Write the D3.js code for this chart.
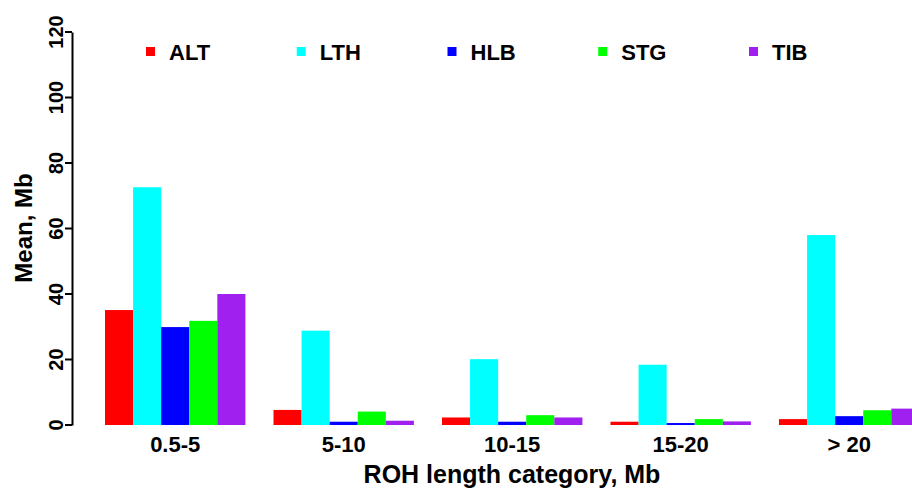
<!DOCTYPE html>
<html><head><meta charset="utf-8">
<script src="https://cdn.jsdelivr.net/npm/d3@7"></script>
<style>
html,body{margin:0;padding:0;background:#fff;}
svg{display:block;font-family:"Liberation Sans",Arial,Helvetica,sans-serif;font-weight:bold;}
</style></head>
<body><svg id="c" width="912" height="488"></svg>
<script>
const categories = ["0.5-5", "5-10", "10-15", "15-20", "> 20"];
const seriesNames = ["ALT", "LTH", "HLB", "STG", "TIB"];
const seriesColors = ["#FF0000", "#00FFFF", "#0000FF", "#00FF00", "#A020F0"];
const ALT = [35.1, 4.6, 2.3, 1.0, 1.8];
const LTH = [72.6, 28.8, 20.1, 18.4, 58.0];
const HLB = [29.9, 1.0, 1.0, 0.6, 2.7];
const STG = [31.8, 4.1, 3.0, 1.8, 4.5];
const TIB = [40.0, 1.3, 2.3, 1.1, 5.0];
const yTicks = [0, 20, 40, 60, 80, 100, 120];

const seriesValues = [ALT, LTH, HLB, STG, TIB];
const svg = d3.select("#c");

const y = d3.scaleLinear().domain([0, 120]).range([425, 32]);
const x0 = d3.scaleBand().domain(categories).range([105, 919.4]).paddingInner(1/6).paddingOuter(0);
const x1 = d3.scaleBand().domain(seriesNames).range([0, x0.bandwidth()]).padding(0);

// bars
const groups = svg.append("g").selectAll("g").data(categories).join("g")
  .attr("transform", d => `translate(${x0(d)},0)`);
groups.selectAll("rect")
  .data((c, ci) => seriesNames.map((s, si) => ({s, si, v: seriesValues[si][ci]})))
  .join("rect")
  .attr("x", d => x1(d.s))
  .attr("width", x1.bandwidth())
  .attr("y", d => y(d.v))
  .attr("height", d => y(0) - y(d.v))
  .attr("fill", d => seriesColors[d.si]);

// y axis
const yAxis = d3.axisLeft(y).tickValues(yTicks).tickSize(7).tickPadding(5).tickSizeOuter(0);
const ga = svg.append("g").attr("transform", "translate(72,0)").call(yAxis);
ga.select(".domain").attr("stroke", "#000").attr("stroke-width", 2);
ga.selectAll(".tick").attr("transform", "translate(0,0)");
ga.selectAll(".tick line").attr("stroke", "#000").attr("stroke-width", 2)
  .attr("y1", d => y(d)).attr("y2", d => y(d));
ga.selectAll(".tick text")
  .attr("font-size", 20).attr("font-family", "Liberation Sans, Arial, sans-serif").attr("font-weight", "bold")
  .attr("fill", "#000")
  .attr("text-anchor", "middle")
  .attr("x", 0).attr("y", 0).attr("dy", 0)
  .attr("transform", d => `translate(-9,${y(d)}) rotate(-90)`);

// x labels
const xAxis = d3.axisBottom(x0).tickSize(0).tickPadding(0);
const gx = svg.append("g").attr("transform", "translate(0,452)").call(xAxis);
gx.select(".domain").remove();
gx.selectAll(".tick text").attr("font-size", 22).attr("font-family", "Liberation Sans, Arial, sans-serif")
  .attr("font-weight", "bold").attr("fill", "#000").attr("dy", 0).attr("y", 0);

// axis titles
svg.append("text").attr("x", 512).attr("y", 483).attr("text-anchor", "middle")
  .attr("font-size", 25).attr("fill", "#000").text("ROH length category, Mb");
svg.append("text").attr("transform", "translate(32,228) rotate(-90)").attr("text-anchor", "middle")
  .attr("font-size", 24).attr("fill", "#000").text("Mean, Mb");

// legend
const legX = d3.scalePoint().domain(seriesNames).range([146, 749]);
const lg = svg.append("g").selectAll("g").data(seriesNames).join("g")
  .attr("transform", d => `translate(${legX(d)},0)`);
lg.append("rect").attr("x", 0).attr("y", 47).attr("width", 9).attr("height", 9)
  .attr("fill", (d, i) => seriesColors[i]);
lg.append("text").attr("x", 23).attr("y", 60).attr("font-size", 22).attr("fill", "#000").text(d => d);
</script></body></html>
